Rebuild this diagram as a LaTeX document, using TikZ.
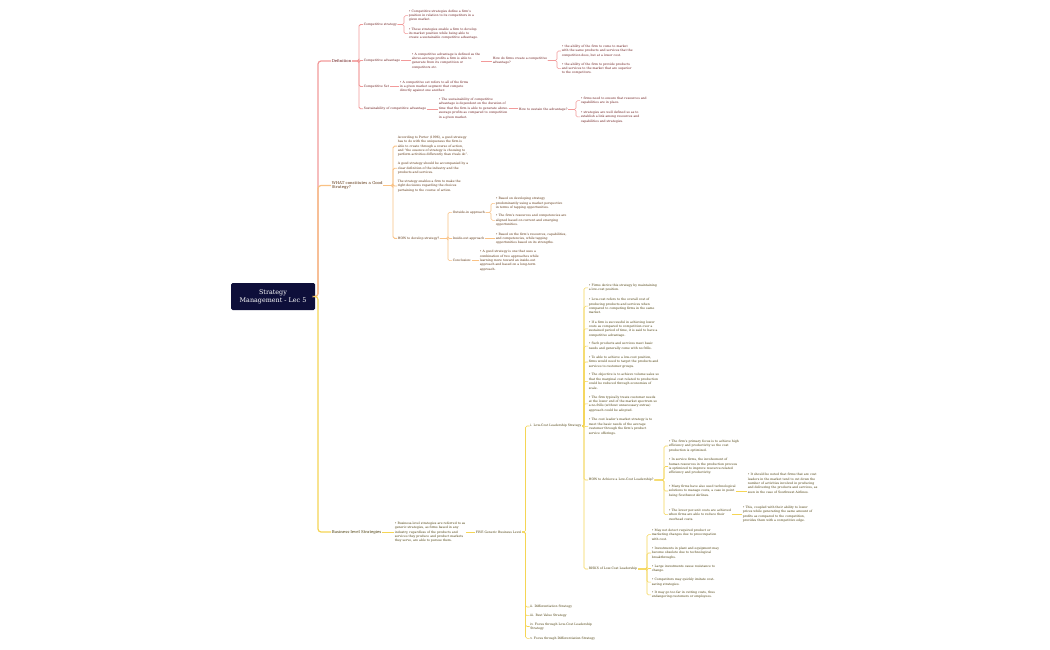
\documentclass[tikz,border=0pt]{standalone}
\usepackage{fontspec}
\setmainfont{DejaVu Serif}
\definecolor{rline}{HTML}{F29A9A}
\definecolor{rtext}{HTML}{6A1A1A}
\definecolor{oline}{HTML}{F9C184}
\definecolor{otext}{HTML}{5A300C}
\definecolor{yline}{HTML}{F5D555}
\definecolor{ytext}{HTML}{4A3C08}
\definecolor{navy}{HTML}{0E0F3A}
\newcommand\brlink[3]{\draw[#1] (#2.east) -- ([xshift=-4pt]#3.west |- #2.east) |- (#3.west);}
\newcommand\stlink[3]{\draw[#1] (#2.east) -- (#3.west |- #2.east);}
\begin{document}
\begin{tikzpicture}[x=1pt,y=-1pt,
  tx/.style={anchor=west, align=left, inner sep=0.6pt, font=\fontsize{3.1}{4.4}\selectfont},
  lv/.style={anchor=west, align=left, inner sep=0.6pt, font=\fontsize{3.9}{4.6}\selectfont},
  rt/.style={text=rtext}, ot/.style={text=otext}, yt/.style={text=ytext},
  rc/.style={draw=rline, line width=0.55pt, rounded corners=1.5pt},
  oc/.style={draw=oline, line width=0.55pt, rounded corners=1.5pt},
  yc/.style={draw=yline, line width=0.55pt, rounded corners=1.5pt},
  rc1/.style={rc, line width=0.9pt},
  oc1/.style={oc, line width=0.9pt},
  yc1/.style={yc, line width=0.9pt},
  mainln/.style={line width=1.2pt, rounded corners=3pt},
  rootbox/.style={fill=navy, rounded corners=1.5pt, minimum width=84pt, minimum height=27pt, inner sep=0pt, text=white, align=center, font=\fontsize{6.4}{8.2}\selectfont}
]
\useasboundingbox (0,0) rectangle (1050,650);
\fill[white] (0,0) rectangle (1050,650);

% root
\node[rootbox] (root) at (273,296.5) {Strategy\\Management - Lec 5};

% level 1
\node[lv,rt] (def) at (331,61) {Definition};
\node[lv,ot] (what) at (331,185.5) {WHAT constitutes a Good\\Strategy?};
\node[lv,yt] (bus) at (331,532) {Business-level Strategies};

\draw[mainln, draw=rline] (root.east) -- (318,296.5) |- (def.west);
\draw[mainln, draw=oline] (root.east) -- (318,296.5) |- (what.west);
\draw[mainln, draw=yline] (root.east) -- (318,296.5) |- (bus.west);

% ---------------- Definition branch
\node[tx,rt] (cs) at (363,24.5) {Competitive strategy};
\node[tx,rt] (ca) at (363,60.5) {Competitive advantage};
\node[tx,rt] (cset) at (363,86.5) {Competitive Set};
\node[tx,rt] (sus) at (363,108.8) {Sustainability of competitive advantage};
\foreach \c in {cs,ca,cset,sus} {\brlink{rc1}{def}{\c}}

\node[tx,rt] (cs1) at (408,15.7) {• Competitive strategies define a firm's\\position in relation to its competitors in a\\given market.};
\node[tx,rt] (cs2) at (408,33.7) {• These strategies enable a firm to develop\\its market position while being able to\\create a sustainable competitive advantage.};
\brlink{rc}{cs}{cs1}
\brlink{rc}{cs}{cs2}

\node[tx,rt] (ca1) at (411,60.8) {• A competitive advantage is defined as the\\above-average profits a firm is able to\\generate from its competition or\\competitors etc.};
\stlink{rc}{ca}{ca1}
\node[tx,rt] (ca2) at (492,60.5) {How do firms create a competitive\\advantage?};
\stlink{rc}{ca1}{ca2}
\node[tx,rt] (ca3) at (561,51) {• the ability of the firm to come to market\\with the same products and services that the\\competition does, but at a lower cost.};
\node[tx,rt] (ca4) at (561,68.7) {• the ability of the firm to provide products\\and services to the market that are superior\\to the competitors.};
\brlink{rc}{ca2}{ca3}
\brlink{rc}{ca2}{ca4}

\node[tx,rt] (cset1) at (399,86.7) {• A competitive set refers to all of the firms\\in a given market segment that compete\\directly against one another.};
\stlink{rc}{cset}{cset1}

\node[tx,rt] (sus1) at (438,108.5) {• The sustainability of competitive\\advantage is dependent on the duration of\\time that the firm is able to generate above-\\average profits as compared to competition\\in a given market.};
\stlink{rc}{sus}{sus1}
\node[tx,rt] (sus2) at (518,109.5) {How to sustain the advantage?};
\stlink{rc}{sus1}{sus2}
\node[tx,rt] (sus3) at (580,100.7) {• firms need to ensure that resources and\\capabilities are in place.};
\node[tx,rt] (sus4) at (580,116.9) {• strategies are well defined so as to\\establish a link among resources and\\capabilities and strategies.};
\brlink{rc}{sus2}{sus3}
\brlink{rc}{sus2}{sus4}

% ---------------- WHAT branch
\node[tx,ot] (w1) at (397,146.2) {According to Porter (1996), a good strategy\\has to do with the uniqueness the firm is\\able to create through a course of action,\\and “the essence of strategy is choosing to\\perform activities differently than rivals do”.};
\node[tx,ot] (w2) at (397,168.3) {A good strategy should be accompanied by a\\clear definition of the industry and the\\products and services.};
\node[tx,ot] (w3) at (397,186) {The strategy enables a firm to make the\\right decisions regarding the choices\\pertaining to the course of action.};
\node[tx,ot] (how) at (397,238.3) {HOW to develop strategy?};
\foreach \c in {w1,w2,w3,how} {\brlink{oc1}{what}{\c}}

\node[tx,ot] (oi) at (452,212.3) {Outside-in approach};
\node[tx,ot] (io) at (452,238.5) {Inside-out approach};
\node[tx,ot] (concl) at (452,260.7) {Conclusion:};
\foreach \c in {oi,io,concl} {\brlink{oc}{how}{\c}}

\node[tx,ot] (oi1) at (495,203.3) {• Based on developing strategy\\predominantly using a market perspective\\in terms of tapping opportunities.};
\node[tx,ot] (oi2) at (495,220.3) {• The firm's resources and competencies are\\aligned based on current and emerging\\opportunities.};
\brlink{oc}{oi}{oi1}
\brlink{oc}{oi}{oi2}
\node[tx,ot] (io1) at (495,238.7) {• Based on the firm's resources, capabilities,\\and competencies, while tapping\\opportunities based on its strengths.};
\stlink{oc}{io}{io1}
\node[tx,ot] (concl1) at (479,260.7) {• A good strategy is one that uses a\\combination of two approaches while\\learning more toward an inside-out\\approach and based on a long-term\\approach.};
\stlink{oc}{concl}{concl1}

% ---------------- Business branch
\node[tx,yt] (bus1) at (394,532.3) {• Business-level strategies are referred to as\\generic strategies, as firms based in any\\industry, regardless of the products and\\services they produce and product markets\\they serve, are able to pursue them.};
\stlink{yc1}{bus}{bus1}
\node[tx,yt] (five) at (475,532) {FIVE Generic Business Level};
\stlink{yc}{bus1}{five}

\node[tx,yt] (lc) at (529.5,426) {i. Low-Cost Leadership Strategy};
\node[tx,yt] (d2) at (529.5,607) {ii. Differentiation Strategy};
\node[tx,yt] (d3) at (529.5,615.7) {iii. Best Value Strategy};
\node[tx,yt] (d4) at (529.5,626.5) {iv. Focus through Low-Cost Leadership\\Strategy};
\node[tx,yt] (d5) at (529.5,638.3) {v. Focus through Differentiation Strategy};
\foreach \c in {lc,d2,d3,d4,d5} {\brlink{yc}{five}{\c}}

\node[tx,yt] (lc1) at (588,287.8) {• Firms derive this strategy by maintaining\\a low-cost position.};
\node[tx,yt] (lc2) at (588,306.2) {• Low-cost refers to the overall cost of\\producing products and services when\\compared to competing firms in the same\\market.};
\node[tx,yt] (lc3) at (588,328.8) {• If a firm is successful in achieving lower\\costs as compared to competition over a\\sustained period of time, it is said to have a\\competitive advantage.};
\node[tx,yt] (lc4) at (588,346.2) {• Such products and services meet basic\\needs and generally come with no frills.};
\node[tx,yt] (lc5) at (588,362) {• To able to achieve a low-cost position,\\firms would need to target the products and\\services to customer groups.};
\node[tx,yt] (lc6) at (588,381.3) {• The objective is to achieve volume sales so\\that the marginal cost related to production\\could be reduced through economies of\\scale.};
\node[tx,yt] (lc7) at (588,403.8) {• The firm typically treats customer needs\\at the lower end of the market spectrum so\\a no-frills (without unnecessary extras)\\approach could be adopted.};
\node[tx,yt] (lc8) at (588,426.7) {• The cost leader's market strategy is to\\meet the basic needs of the average\\customer through the firm's product\\service offerings.};
\node[tx,yt] (hw) at (588,480) {HOW to Achieve a Low-Cost Leadership?};
\node[tx,yt] (rk) at (588,569) {RISKS of Low-Cost Leadership};
\foreach \c in {lc1,lc2,lc3,lc4,lc5,lc6,lc7,lc8,hw,rk} {\brlink{yc}{lc}{\c}}

\node[tx,yt] (hw1) at (668,446) {• The firm's primary focus is to achieve high\\efficiency and productivity so the cost\\production is optimized.};
\node[tx,yt] (hw2) at (668,466.5) {• In service firms, the involvement of\\human resources in the production process\\is optimized to improve resource-related\\efficiency and productivity.};
\node[tx,yt] (hw3) at (668,491) {• Many firms have also used technological\\solutions to manage costs, a case in point\\being Southwest Airlines.};
\node[tx,yt] (hw4) at (668,514.7) {• The lower per-unit costs are achieved\\when firms are able to reduce their\\overhead costs.};
\foreach \c in {hw1,hw2,hw3,hw4} {\brlink{yc}{hw}{\c}}

\node[tx,yt] (hw3a) at (747,483.3) {• It should be noted that firms that are cost\\leaders in the market tend to cut down the\\number of activities involved in producing\\and delivering the products and services, as\\seen in the case of Southwest Airlines.};
\stlink{yc}{hw3}{hw3a}
\node[tx,yt] (hw4a) at (742,514.3) {• This, coupled with their ability to lower\\prices while generating the same amount of\\profits as compared to the competition,\\provides them with a competitive edge.};
\stlink{yc}{hw4}{hw4a}

\node[tx,yt] (rk1) at (651,534.7) {• May not detect required product or\\marketing changes due to preoccupation\\with cost.};
\node[tx,yt] (rk2) at (651,553) {• Investments in plant and equipment may\\become obsolete due to technological\\breakthroughs.};
\node[tx,yt] (rk3) at (651,568.5) {• Large investments cause resistance to\\change.};
\node[tx,yt] (rk4) at (651,582.2) {• Competitors may quickly imitate cost-\\saving strategies.};
\node[tx,yt] (rk5) at (651,594.9) {• It may go too far in cutting costs, thus\\endangering customers or employees.};
\foreach \c in {rk1,rk2,rk3,rk4,rk5} {\brlink{yc}{rk}{\c}}
\end{tikzpicture}
\end{document}
